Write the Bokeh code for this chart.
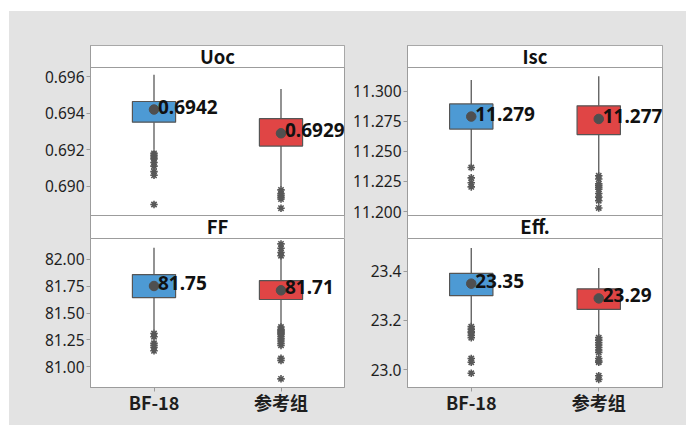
from bokeh.plotting import figure
from bokeh.layouts import row, column
from bokeh.models import FactorRange, Range1d, FixedTicker, NumeralTickFormatter, Label, BoxAnnotation
from bokeh.core.properties import value
from bokeh.embed import file_html
from bokeh.resources import INLINE

groups = ["BF-18", "参考组"]
box_colors = ["#4d9ad4", "#e04545"]

# Uoc
uoc_q1 = [0.69351, 0.69220]
uoc_med = [0.69415, 0.69295]
uoc_q3 = [0.69464, 0.69370]
uoc_lo = [0.6920, 0.68996]
uoc_hi = [0.6961, 0.69533]
uoc_mean = [0.6942, 0.6929]
uoc_out_bf = [0.6918, 0.6917, 0.6916, 0.6915, 0.6913, 0.6911, 0.6908, 0.6906, 0.6890]
uoc_out_ref = [0.6898, 0.6896, 0.6895, 0.6894, 0.6893, 0.6888]
uoc_ticks = [0.690, 0.692, 0.694, 0.696]

# Isc
isc_q1 = [11.2686, 11.2640]
isc_med = [11.2798, 11.2764]
isc_q3 = [11.2895, 11.2879]
isc_lo = [11.2390, 11.2325]
isc_hi = [11.3095, 11.3125]
isc_mean = [11.279, 11.277]
isc_out_bf = [11.2366, 11.2280, 11.2240, 11.2205]
isc_out_ref = [11.2297, 11.2270, 11.2230, 11.2215, 11.2200, 11.2185, 11.2150, 11.2120, 11.2090, 11.2030]
isc_ticks = [11.200, 11.225, 11.250, 11.275, 11.300]

# FF
ff_q1 = [81.643, 81.625]
ff_med = [81.754, 81.710]
ff_q3 = [81.856, 81.800]
ff_lo = [81.34, 81.39]
ff_hi = [82.105, 82.020]
ff_mean = [81.75, 81.71]
ff_out_bf = [81.31, 81.28, 81.22, 81.20, 81.18, 81.15]
ff_out_ref = [82.14, 82.10, 82.06, 82.03, 81.37, 81.35, 81.34, 81.33, 81.32, 81.31,
              81.30, 81.28, 81.26, 81.24, 81.22, 81.20, 81.08, 81.06, 80.89]
ff_ticks = [81.00, 81.25, 81.50, 81.75, 82.00]

# Eff.
eff_q1 = [23.301, 23.245]
eff_med = [23.346, 23.286]
eff_q3 = [23.392, 23.329]
eff_lo = [23.184, 23.140]
eff_hi = [23.495, 23.414]
eff_mean = [23.35, 23.29]
eff_out_bf = [23.175, 23.165, 23.155, 23.150, 23.140, 23.130, 23.045, 23.030, 22.985]
eff_out_ref = [23.13, 23.12, 23.11, 23.10, 23.09, 23.08, 23.07, 23.045, 23.035, 23.03, 22.975, 22.96]
eff_ticks = [23.0, 23.2, 23.4]

BG = "#e3e3e3"
FRAME = "#9c9c9c"
DARK = "#585858"
LATIN = "Noto Sans"
CJK = "Noto Sans CJK SC"

STRIP_TOP = 22   # px height of upper strip
STRIP_MID = 23   # px height of middle strip
PLOT_TOP_H = 148
PLOT_BOT_H = 149
TOP_PAD = 45
BOT_PAD = 38


def add_strip(p, bottom, top, title):
    p.add_layout(BoxAnnotation(bottom=bottom, top=top, fill_color="white", fill_alpha=1,
                               line_color=FRAME, line_alpha=1, line_width=1, level="underlay"))
    p.add_layout(Label(x=1.0, y=(bottom + top) / 2, text=title, text_align="center",
                       text_baseline="middle", text_font=CJK, text_font_size="18.5px",
                       text_font_style="bold", text_color="#111111", y_offset=1))


def draw_boxes(p, q1, med, q3, lo, hi, mean, out_bf, out_ref, labels):
    p.segment(x0=groups, y0=lo, x1=groups, y1=q1, line_color=DARK, line_width=1.3)
    p.segment(x0=groups, y0=q3, x1=groups, y1=hi, line_color=DARK, line_width=1.3)
    p.vbar(x=groups, bottom=q1, top=q3, width=0.34, fill_color=box_colors,
           line_color="#555555", line_width=1.2)
    p.rect(x=groups, y=med, width=0.34, height=0, line_color="#555555", line_width=1.2,
           fill_alpha=0)
    p.scatter(x=[groups[0]] * len(out_bf), y=out_bf, marker="asterisk", size=7.5,
              line_color=DARK, line_width=1.6)
    p.scatter(x=[groups[1]] * len(out_ref), y=out_ref, marker="asterisk", size=7.5,
              line_color=DARK, line_width=1.6)
    p.scatter(x=groups, y=mean, size=9.5, fill_color="#4f4f4f", line_color="#4f4f4f")
    p.text(x=groups, y=mean, text=labels, x_offset=4, y_offset=-3,
           text_font=value(LATIN), text_font_style="bold", text_font_size="19px",
           text_color="#111111", text_baseline="middle", text_align="left")


def style_y(p, ticks, fmt):
    ya = p.yaxis[0]
    ya.ticker = FixedTicker(ticks=ticks)
    ya.formatter = NumeralTickFormatter(format=fmt)
    ya.minor_tick_line_color = None
    ya.major_tick_in = 0
    ya.major_tick_out = 4
    ya.major_tick_line_color = FRAME
    ya.axis_line_color = FRAME
    ya.major_label_text_font = LATIN
    ya.major_label_text_font_size = "15.5px"
    ya.major_label_text_color = "#1e1e1e"
    ya.major_label_standoff = 2


def base_fig(width, height, yr, left, right, top, bottom, show_x):
    p = figure(width=width, height=height, x_range=FactorRange(*groups, range_padding=0),
               y_range=Range1d(*yr), toolbar_location=None, output_backend="svg",
               x_axis_location="below" if show_x else None,
               min_border_left=left, min_border_right=right, min_border_top=top,
               min_border_bottom=bottom)
    p.grid.visible = False
    p.background_fill_color = "white"
    p.border_fill_alpha = 0
    p.outline_line_color = FRAME
    return p


def top_panel(width, left, right, yr, title1, title2, data, ticks, fmt, labels):
    a, b = yr
    k = PLOT_TOP_H / (b - a)
    top_ext = b + STRIP_TOP / k
    bot_ext = a - STRIP_MID / k
    h = TOP_PAD + STRIP_TOP + PLOT_TOP_H + STRIP_MID
    p = base_fig(width, h, (bot_ext, top_ext), left, right, TOP_PAD, 0, False)
    add_strip(p, b, top_ext, title1)
    add_strip(p, bot_ext, a, title2)
    draw_boxes(p, *data, labels)
    style_y(p, ticks, fmt)
    return p


def bottom_panel(width, left, right, yr, data, ticks, fmt, labels):
    p = base_fig(width, PLOT_BOT_H + BOT_PAD, yr, left, right, 0, BOT_PAD, True)
    draw_boxes(p, *data, labels)
    style_y(p, ticks, fmt)
    xa = p.xaxis[0]
    xa.major_tick_in = 0
    xa.major_tick_out = 4
    xa.major_tick_line_color = FRAME
    xa.axis_line_color = FRAME
    xa.major_label_text_font = CJK
    xa.major_label_text_font_size = "18px"
    xa.major_label_text_font_style = "bold"
    xa.major_label_text_color = "#1e1e1e"
    xa.major_label_standoff = -3
    return p


LW, RW = 350, 336
LL, LR = 90, 6
RL, RR = 57, 24

uoc_labels = ["%.4f" % v for v in uoc_mean]
isc_labels = ["%.3f" % v for v in isc_mean]
ff_labels = ["%.2f" % v for v in ff_mean]
eff_labels = ["%.2f" % v for v in eff_mean]

uoc = (uoc_q1, uoc_med, uoc_q3, uoc_lo, uoc_hi, uoc_mean, uoc_out_bf, uoc_out_ref)
isc = (isc_q1, isc_med, isc_q3, isc_lo, isc_hi, isc_mean, isc_out_bf, isc_out_ref)
ff = (ff_q1, ff_med, ff_q3, ff_lo, ff_hi, ff_mean, ff_out_bf, ff_out_ref)
eff = (eff_q1, eff_med, eff_q3, eff_lo, eff_hi, eff_mean, eff_out_bf, eff_out_ref)

left_col = column(
    top_panel(LW, LL, LR, (0.6884, 0.6965), "Uoc", "FF", uoc, uoc_ticks, "0.000", uoc_labels),
    bottom_panel(LW, LL, LR, (80.81, 82.19), ff, ff_ticks, "0.00", ff_labels),
    spacing=0,
)
right_col = column(
    top_panel(RW, RL, RR, (11.1967, 11.3198), "Isc", "Eff.", isc, isc_ticks, "0.000", isc_labels),
    bottom_panel(RW, RL, RR, (22.927, 23.534), eff, eff_ticks, "0.0", eff_labels),
    spacing=0,
)
layout = row(left_col, right_col, spacing=0,
             styles={"background-color": BG, "box-shadow": "inset 9px 11px 0 0 white"})

open("out.html", "w").write(file_html(layout, INLINE))
